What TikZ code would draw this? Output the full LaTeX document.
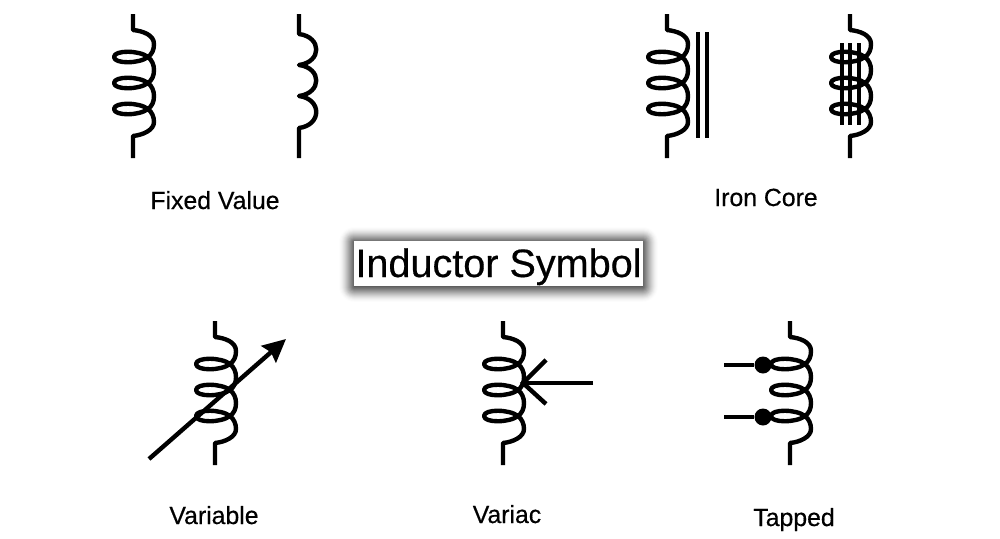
\documentclass[tikz,border=0pt]{standalone}
\usepackage{fontspec}
\setmainfont{Liberation Sans}[FakeBold=0.45]
\usetikzlibrary{arrows.meta}
\tikzset{
  coilLine/.style = {line width=4.4pt, line join=round},
  wireLine/.style = {line width=4.4pt},
  tapDot/.style = {circle, fill=black, inner sep=0pt, minimum size=17pt},
  symLabel/.style = {anchor=base, inner sep=0pt, font=\fontsize{24.8}{28}\selectfont},
  titleBox/.style = {fill=white, inner sep=0pt, minimum width=289pt, minimum height=45pt,
    text height=36pt, text depth=9pt, font=\fontsize{39.6}{44}\selectfont},
  loopCoil/.pic = {
    % Leads and turns, measured from the top of the lead
    \draw[coilLine] (0,0) -- (0,16) .. controls (10,17) and (21,21) .. (21,30)
      foreach \l in {43,69,95} {
        .. controls (21,\l-7) and (19,\l-3) .. (15,\l)
        .. controls (6,\l-7) and (-19,\l-7) .. (-19,\l)
        .. controls (-19,\l+7) and (6,\l+7) .. (15,\l)
        .. controls (19,\l+3) and (21,\l+8) .. (21,\l+13)
      }
      .. controls (21,116) and (10,121) .. (0,122) -- (0,144);
  },
  plainCoil/.pic = {
    % Three plain bumps
    \draw[coilLine] (0,0) -- (0,20)
      foreach \a/\b in {20/51,51/82,82/114} {
        .. controls (23,\a+3) and (23,\b-3) .. (0,\b)
      }
      -- (0,144);
  }
}
\begin{document}
\begin{tikzpicture}[x=1pt,y=-1pt]
  \useasboundingbox (0,0) rectangle (1000,538);
  \fill[white] (0,0) rectangle (1000,538);
  % Soft shadow behind the title
  \coordinate (titleNW) at (354,241);
  \coordinate (titleSE) at (643,286);
  \foreach \r in {15,14,...,0} {
    \pgfmathsetmacro\shadeop{0.008+0.0065*(15-\r)}
    \fill[black,opacity=\shadeop,rounded corners=\r pt]
      ([shift={(-\r,-\r+1)}]titleNW) rectangle ([shift={(\r,\r+1)}]titleSE);
  }
  \node[titleBox] (title) at (498.5,263.5) {Inductor Symbol};
  % Top row
  \path (133,14) pic {loopCoil};
  \path (299,14) pic {plainCoil};
  \path (667,14) pic {loopCoil};
  \path (850,14) pic {loopCoil};
  % Iron core lines
  \foreach \xcore in {698,707}
  \draw[wireLine] (\xcore,32) -- (\xcore,138);
  \foreach \xcore in {842,850,859}
  \draw[wireLine] (\xcore,43) -- (\xcore,125);
  % Bottom row
  \path (215,321) pic {loopCoil};
  \path (503,321) pic {loopCoil};
  \path (790,321) pic {loopCoil};
  % Variable arrow
  \coordinate (varTail) at (149,459);
  \coordinate (varTip) at (286,339);
  \draw[wireLine,-{Stealth[length=23pt,width=22pt,inset=3pt]}] (varTail) -- (varTip);
  % Variac arrow
  \coordinate (acTail) at (593,383);
  \coordinate (acTip) at (523,383);
  \coordinate (acUp) at (546,360);
  \coordinate (acDown) at (546,404);
  \draw[wireLine] (acTail) -- (acTip);
  \draw[wireLine] (acUp) -- (acTip) -- (acDown);
  % Taps
  \node[tapDot] (tapA) at (763,365) {};
  \node[tapDot] (tapB) at (763,417) {};
  \coordinate (stubA) at (724,365);
  \coordinate (stubB) at (724,417);
  \draw[wireLine] (stubA) -- (tapA);
  \draw[wireLine] (stubB) -- (tapB);
  % Labels
  \node[symLabel] (lblFixed) at (215,209) {Fixed Value};
  \node[symLabel] (lblIron) at (766,206) {Iron Core};
  \node[symLabel] (lblVar) at (214,524) {Variable};
  \node[symLabel] (lblVariac) at (507,523) {Variac};
  \node[symLabel] (lblTap) at (794,526) {Tapped};
\end{tikzpicture}
\end{document}
